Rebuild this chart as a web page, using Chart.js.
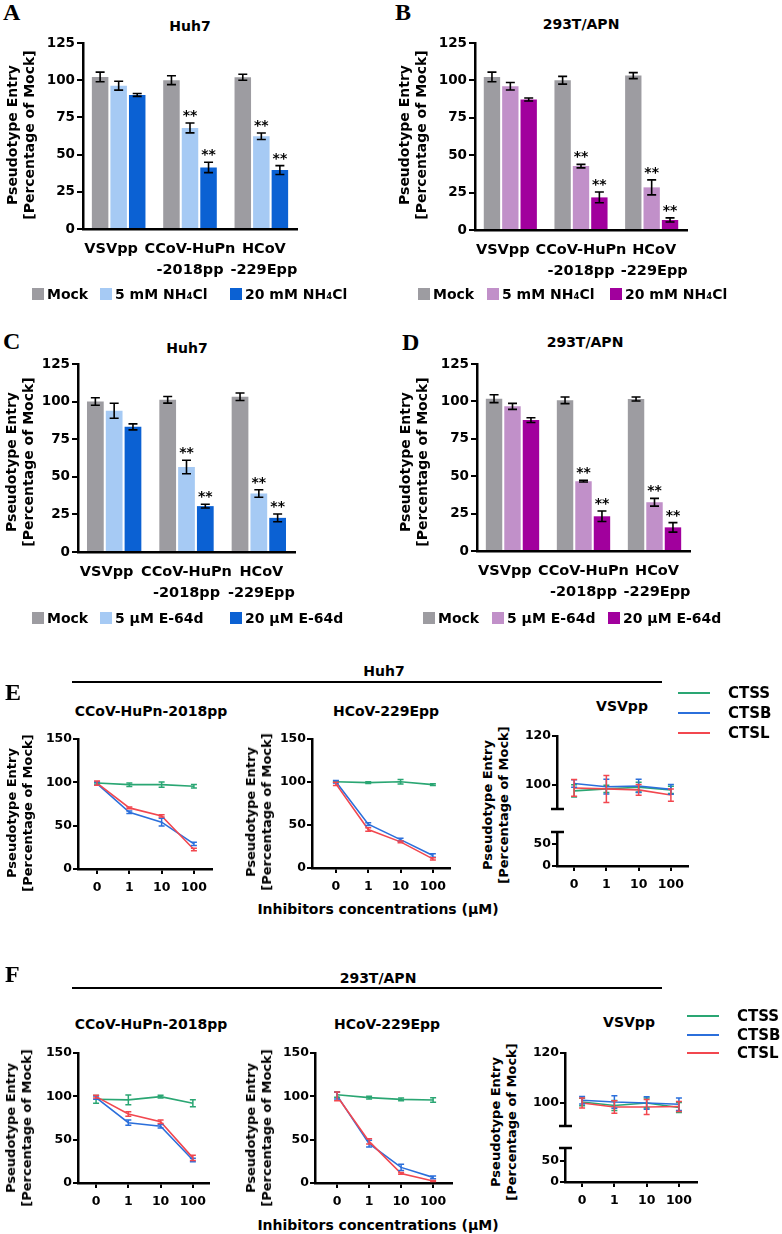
<!DOCTYPE html>
<html>
<head>
<meta charset="utf-8">
<script src="https://cdn.jsdelivr.net/npm/chart.js@4.4.1/dist/chart.umd.min.js"></script>
<style>
  body { margin: 0; background: #fff; width: 782px; height: 1234px; position: relative; overflow: hidden;
         font-family: 'DejaVu Sans', sans-serif; font-weight: bold; color: #000; }
  .abs { position: absolute; white-space: nowrap; }
  .letter { font-family: 'Liberation Serif', 'Times New Roman', serif; font-size: 24px; line-height: 24px; font-weight: bold; }
</style>
</head>
<body>
<script>
// ---- bar panels (A-D) ----
// (spaces nudge the labels the way the original figure sets them)
const barGroups = [['VSVpp   '], ['CCoV-HuPn', '-2018pp'], [' HCoV', ' -229Epp']];
const nh4Series = ['Mock', '5 mM NH₄Cl', '20 mM NH₄Cl'];
const e64Series = ['Mock', '5 μM E-64d', '20 μM E-64d'];
const starred = [false, true, true];

// A: Huh7, NH4Cl
const aMock = [102.2, 100.0, 102.0], aMockErr = [3.2, 3.0, 2.0];
const aLow = [96.3, 67.9, 62.3], aLowErr = [3.0, 3.3, 2.2];
const aHigh = [90.1, 41.4, 39.6], aHighErr = [1.0, 3.5, 3.0];
// B: 293T/APN, NH4Cl
const bMock = [102.3, 100.1, 103.2], bMockErr = [3.2, 2.6, 2.0];
const bLow = [96.1, 42.7, 28.5], bLowErr = [2.5, 1.2, 5.0];
const bHigh = [87.2, 21.8, 6.7], bHighErr = [1.0, 3.6, 1.4];
// C: Huh7, E-64d
const cMock = [100.1, 101.2, 103.2], cMockErr = [2.5, 2.2, 2.5];
const cLow = [93.9, 56.5, 38.9], cLowErr = [5.0, 4.5, 2.5];
const cHigh = [83.2, 30.5, 22.7], cHighErr = [2.0, 1.2, 2.6];
// D: 293T/APN, E-64d
const dMock = [101.8, 100.7, 101.6], dMockErr = [2.6, 2.2, 1.3];
const dLow = [96.7, 46.7, 32.6], dLowErr = [2.0, 0.6, 2.6];
const dHigh = [87.5, 23.2, 15.8], dHighErr = [1.6, 3.5, 3.2];

// ---- line panels (E, F) ----
const concLabels = ['0', '1', '10', '100'];
const lineNames = ['CTSS', 'CTSB', 'CTSL'];

const eCcovS = [99.2, 97.3, 97.3, 95.4], eCcovSErr = [1.0, 2.0, 3.0, 2.0];
const eCcovB = [98.5, 65.4, 54.0, 29.0], eCcovBErr = [2.0, 1.5, 4.5, 2.0];
const eCcovL = [99.0, 70.5, 61.3, 22.5], eCcovLErr = [2.5, 1.0, 1.2, 1.5];
const eHcovS = [100.3, 99.3, 100.3, 97.0], eHcovSErr = [1.0, 1.0, 2.5, 1.0];
const eHcovB = [100.3, 51.0, 33.0, 14.5], eHcovBErr = [1.5, 1.5, 1.5, 2.0];
const eHcovL = [97.8, 44.8, 30.4, 10.6], eHcovLErr = [2.0, 2.0, 1.0, 1.2];
const eVsvS = [97.6, 98.4, 99.1, 98.0], eVsvSErr = [2.5, 1.5, 2.0, 1.5];
const eVsvB = [100.6, 99.3, 99.6, 98.2], eVsvBErr = [1.5, 3.0, 2.7, 2.0];
const eVsvL = [98.8, 98.4, 98.0, 95.9], eVsvLErr = [3.4, 5.5, 2.2, 2.5];

const fCcovS = [96.6, 95.9, 99.7, 92.0], fCcovSErr = [4.5, 5.5, 1.5, 4.0];
const fCcovB = [98.5, 69.6, 65.5, 26.5], fCcovBErr = [2.0, 3.0, 2.0, 2.0];
const fCcovL = [99.7, 79.6, 70.7, 29.0], fCcovLErr = [1.5, 2.5, 2.0, 3.0];
const fHcovS = [101.9, 98.5, 96.5, 95.8], fHcovSErr = [3.0, 1.5, 1.5, 2.5];
const fHcovB = [100.8, 45.4, 18.0, 6.5], fHcovBErr = [4.0, 4.0, 3.5, 1.5];
const fHcovL = [100.0, 48.0, 11.0, 2.3], fHcovLErr = [5.0, 3.0, 1.0, 0.5];
const fVsvS = [100.4, 99.0, 100.0, 98.2], fVsvSErr = [1.5, 2.0, 2.0, 2.0];
const fVsvB = [101.1, 100.4, 100.0, 99.5], fVsvBErr = [1.5, 2.5, 2.5, 2.5];
const fVsvL = [100.0, 98.4, 98.4, 98.6], fVsvLErr = [2.0, 2.5, 3.0, 2.0];

const FONT = 'DejaVu Sans';
const blueColors = ['#9d9ca1', '#a6caf4', '#0b61d3'];
const purpleColors = ['#9d9ca1', '#c190c9', '#a1009d'];
const lineColors = ['#2aa673', '#2b6fdb', '#f2474f'];

Chart.defaults.font.family = FONT;
Chart.defaults.font.weight = 'bold';
Chart.defaults.color = '#000';

// error bars (+ significance stars) drawn from dataset.errors
const errorBars = {
    id: 'errorBars',
    afterDatasetsDraw(chart, args, opts) {
        const ctx = chart.ctx;
        chart.data.datasets.forEach((ds, i) => {
            if (!ds.errors) return;
            const meta = chart.getDatasetMeta(i);
            const yScale = chart.scales[meta.yAxisID];
            ctx.save();
            ctx.strokeStyle = ds.errorColor || ds.borderColor;
            ctx.lineWidth = opts.width || 1.6;
            meta.data.forEach((el, j) => {
                const raw = ds.data[j];
                const v = typeof raw === 'object' ? raw.y : raw;
                const e = ds.errors[j];
                const top = yScale.getPixelForValue(v + e);
                const bot = yScale.getPixelForValue(v - e);
                const x = el.x, h = (opts.cap || 8) / 2;
                ctx.beginPath();
                ctx.moveTo(x, top); ctx.lineTo(x, bot);
                ctx.moveTo(x - h, top); ctx.lineTo(x + h, top);
                ctx.moveTo(x - h, bot); ctx.lineTo(x + h, bot);
                ctx.stroke();
                if (ds.stars && ds.stars[j]) {
                    ctx.fillStyle = '#000';
                    ctx.font = 'bold 14px "DejaVu Sans"';
                    ctx.textAlign = 'center';
                    ctx.textBaseline = 'alphabetic';
                    ctx.fillText('**', x, top - 3);
                }
            });
            ctx.restore();
        });
    }
};

// little end bar where the y axis is broken
const breakCap = {
    id: 'breakCap',
    afterDraw(chart, args, opts) {
        if (!opts || !opts.edge) return;
        const ctx = chart.ctx;
        const {left, top, bottom} = chart.chartArea;
        const y = opts.edge === 'top' ? top : bottom;
        ctx.save();
        ctx.strokeStyle = '#000';
        ctx.lineWidth = 2.5;
        ctx.beginPath();
        ctx.moveTo(left - 6, y); ctx.lineTo(left + 7, y);
        ctx.stroke();
        ctx.restore();
    }
};

function makeCanvas(area, pad) {
    const c = document.createElement('canvas');
    const w = area.r - area.l + pad.l + pad.r;
    const h = area.b - area.t + pad.t + pad.b;
    c.width = w; c.height = h;
    c.style.cssText = `position:absolute;left:${area.l - pad.l}px;top:${area.t - pad.t}px;width:${w}px;height:${h}px`;
    document.body.appendChild(c);
    return c;
}

function addText(html, x, y, size, extra) {
    const d = document.createElement('div');
    d.className = 'abs';
    d.style.cssText += `left:${x}px;top:${y}px;font-size:${size}px;line-height:${size}px;transform:translate(-50%,-50%);` + (extra || '');
    d.innerHTML = html;
    document.body.appendChild(d);
    return d;
}

function letter(ch, x, y) {
    const d = document.createElement('div');
    d.className = 'abs letter';
    d.style.left = x + 'px'; d.style.top = y + 'px';
    d.textContent = ch;
    document.body.appendChild(d);
}

function yTitle(cx, cy, size) {
    const d = document.createElement('div');
    d.className = 'abs';
    d.style.cssText += `left:${cx}px;top:${cy}px;font-size:${size}px;line-height:${size + 3}px;text-align:center;transform:translate(-50%,-50%) rotate(-90deg)`;
    d.innerHTML = 'Pseudotype Entry<br>[Percentage of Mock]';
    document.body.appendChild(d);
}

function barLegend(names, colors, boxXs, textXs, cy) {
    names.forEach((name, i) => {
        const sq = document.createElement('div');
        sq.className = 'abs';
        sq.style.cssText += `left:${boxXs[i]}px;top:${cy - 6}px;width:12px;height:12px;background:${colors[i]}`;
        document.body.appendChild(sq);
        const t = document.createElement('div');
        t.className = 'abs';
        t.style.cssText += `left:${textXs[i]}px;top:${cy - 7}px;font-size:14px;line-height:14px`;
        t.textContent = name;
        document.body.appendChild(t);
    });
}

function lineLegend(x1, textX, ys) {
    lineNames.forEach((name, i) => {
        const ln = document.createElement('div');
        ln.className = 'abs';
        ln.style.cssText += `left:${x1}px;top:${ys[i] - 1}px;width:32px;height:2px;background:${lineColors[i]}`;
        document.body.appendChild(ln);
        const t = document.createElement('div');
        t.className = 'abs';
        t.style.cssText += `left:${textX}px;top:${ys[i] - 8}px;font-size:15px;line-height:16px`;
        t.textContent = name;
        document.body.appendChild(t);
    });
}

function hRule(x1, x2, y) {
    const d = document.createElement('div');
    d.className = 'abs';
    d.style.cssText += `left:${x1}px;top:${y - 1}px;width:${x2 - x1}px;height:2px;background:#000`;
    document.body.appendChild(d);
}

const BPAD = {l: 50, t: 14, r: 14, b: 60};
function barChart(area, series, colors, values, errors) {
    const canvas = makeCanvas(area, BPAD);
    return new Chart(canvas, {
        type: 'bar',
        data: {
            labels: barGroups,
            datasets: series.map((name, i) => ({
                label: name,
                data: values[i],
                errors: errors[i],
                stars: i > 0 ? starred : null,
                errorColor: '#000',
                backgroundColor: colors[i],
                categoryPercentage: 0.78,
                barPercentage: 0.89
            }))
        },
        options: {
            responsive: false, animation: false, devicePixelRatio: 1,
            layout: {padding: {left: 0, top: BPAD.t, right: BPAD.r, bottom: 0}},
            plugins: {legend: {display: false}, tooltip: {enabled: false}, errorBars: {width: 1.6, cap: 9}},
            scales: {
                x: {
                    grid: {display: false, drawTicks: false},
                    border: {display: true, color: '#000', width: 2.5},
                    ticks: {font: {size: 14.5, lineHeight: 1.5}, padding: 9, maxRotation: 0, autoSkip: false},
                    afterFit: s => { s.height = BPAD.b; }
                },
                y: {
                    min: 0, max: 125,
                    ticks: {stepSize: 25, font: {size: 13.5}, padding: 2},
                    grid: {drawOnChartArea: false, color: '#000', lineWidth: 2, tickLength: 6},
                    border: {color: '#000', width: 2.5},
                    afterFit: s => { s.width = BPAD.l; }
                }
            }
        },
        plugins: [errorBars]
    });
}

const LPAD = {l: 45, t: 12, r: 12, b: 35};
function lineSets(vals, errs) {
    return lineNames.map((name, k) => ({
        label: name,
        data: vals[k].map((v, i) => ({x: i, y: v})),
        errors: errs[k],
        borderColor: lineColors[k],
        backgroundColor: lineColors[k],
        borderWidth: 1.6,
        pointRadius: 0,
        order: 3 - k
    }));
}
function xScale(range, show) {
    const s = {
        type: 'linear', min: range[0], max: range[1], display: show,
        afterBuildTicks: sc => { sc.ticks = concLabels.map((_, i) => ({value: i})); },
        ticks: {autoSkip: false, callback: v => concLabels[v], font: {size: 12.5}, padding: 6, maxRotation: 0},
        grid: {drawOnChartArea: false, color: '#000', lineWidth: 2, tickLength: 5},
        border: {color: '#000', width: 2.5}
    };
    if (show) s.afterFit = sc => { sc.height = LPAD.b; };
    return s;
}
function yScale(min, max, tickVals) {
    return {
        type: 'linear', min, max,
        afterBuildTicks: sc => { sc.ticks = tickVals.map(v => ({value: v})); },
        ticks: {font: {size: 12.5}, padding: 1},
        grid: {drawOnChartArea: false, color: '#000', lineWidth: 2, tickLength: 5},
        border: {color: '#000', width: 2.5},
        afterFit: sc => { sc.width = LPAD.l; }
    };
}
function lineChart(area, xr, yr, yTicks, datasets, showX, edge) {
    const canvas = makeCanvas(area, LPAD);
    return new Chart(canvas, {
        type: 'line',
        data: {datasets},
        options: {
            responsive: false, animation: false, devicePixelRatio: 1,
            layout: {padding: {left: 0, top: LPAD.t, right: LPAD.r, bottom: showX ? 0 : LPAD.b}},
            plugins: {legend: {display: false}, tooltip: {enabled: false},
                      errorBars: {width: 1.5, cap: 6}, breakCap: {edge}},
            scales: {x: xScale(xr, showX), y: yScale(yr[0], yr[1], yTicks)}
        },
        plugins: [errorBars, breakCap]
    });
}
function vsvCharts(upper, lower, xr, upMin, lowMax, datasets) {
    lineChart(upper, xr, [upMin, 120], [100, 120], datasets, false, 'bottom');
    lineChart(lower, xr, [0, lowMax], [0, 50], [], true, 'top');
}

// ---- panels A-D ----
letter('A', 3, 0);
letter('B', 395, 0);
letter('C', 3, 329);
letter('D', 402, 330);

addText('Huh7', 190, 26, 14);
addText('293T/APN', 581, 24, 14);
addText('Huh7', 187, 348, 14);
addText('293T/APN', 585, 342, 14);

barChart({l: 83, t: 43, r: 297, b: 229}, nh4Series, blueColors,
    [aMock, aLow, aHigh], [aMockErr, aLowErr, aHighErr]);
barChart({l: 475, t: 43, r: 687, b: 230}, nh4Series, purpleColors,
    [bMock, bLow, bHigh], [bMockErr, bLowErr, bHighErr]);
barChart({l: 78, t: 364, r: 295, b: 552}, e64Series, blueColors,
    [cMock, cLow, cHigh], [cMockErr, cLowErr, cHighErr]);
barChart({l: 477, t: 364, r: 690, b: 551}, e64Series, purpleColors,
    [dMock, dLow, dHigh], [dMockErr, dLowErr, dHighErr]);

yTitle(21, 135, 14);
yTitle(413, 135, 14);
yTitle(20, 462, 14);
yTitle(414, 462, 14);

barLegend(nh4Series, blueColors, [32, 100, 230], [47, 115, 245], 294);
barLegend(nh4Series, purpleColors, [418, 487, 610], [433, 502, 625], 294);
barLegend(e64Series, blueColors, [32, 100, 230], [47, 115, 245], 618);
barLegend(e64Series, purpleColors, [423, 492, 608], [438, 507, 623], 618);

// ---- panel E (Huh7) ----
letter('E', 5, 680);
hRule(72, 662, 682);
addText('Huh7', 384, 671, 14);
addText('CCoV-HuPn-2018pp', 151, 711, 14);
addText('HCoV-229Epp', 386, 711, 14);
addText('VSVpp', 622, 706, 14);
addText('Inhibitors concentrations (μM)', 378, 909, 14);

lineChart({l: 78, t: 739, r: 212, b: 869}, [-0.59, 3.56], [0, 150], [0, 50, 100, 150],
    lineSets([eCcovS, eCcovB, eCcovL], [eCcovSErr, eCcovBErr, eCcovLErr]), true);
lineChart({l: 312, t: 739, r: 450, b: 868}, [-0.74, 3.53], [0, 150], [0, 50, 100, 150],
    lineSets([eHcovS, eHcovB, eHcovL], [eHcovSErr, eHcovBErr, eHcovLErr]), true);
vsvCharts({l: 557, t: 736, r: 688, b: 809}, {l: 557, t: 832, r: 688, b: 866}, [-0.53, 3.53], 90.2, 77,
    lineSets([eVsvS, eVsvB, eVsvL], [eVsvSErr, eVsvBErr, eVsvLErr]));

yTitle(20, 813, 13);
yTitle(259, 812, 13);
yTitle(496, 805, 13);
lineLegend(678, 728, [693, 713, 733]);

// ---- panel F (293T/APN) ----
letter('F', 5, 962);
hRule(72, 662, 988);
addText('293T/APN', 378, 978, 14);
addText('CCoV-HuPn-2018pp', 151, 1024, 14);
addText('HCoV-229Epp', 387, 1024, 14);
addText('VSVpp', 629, 1022, 14);
addText('Inhibitors concentrations (μM)', 378, 1225, 14);

lineChart({l: 78, t: 1053, r: 209, b: 1183}, [-0.56, 3.5], [0, 150], [0, 50, 100, 150],
    lineSets([fCcovS, fCcovB, fCcovL], [fCcovSErr, fCcovBErr, fCcovLErr]), true);
lineChart({l: 315, t: 1053, r: 452, b: 1183}, [-0.69, 3.59], [0, 150], [0, 50, 100, 150],
    lineSets([fHcovS, fHcovB, fHcovL], [fHcovSErr, fHcovBErr, fHcovLErr]), true);
vsvCharts({l: 565, t: 1053, r: 697, b: 1126}, {l: 565, t: 1148, r: 697, b: 1182}, [-0.53, 3.56], 90.8, 81,
    lineSets([fVsvS, fVsvB, fVsvL], [fVsvSErr, fVsvBErr, fVsvLErr]));

yTitle(19, 1128, 13);
yTitle(259, 1128, 13);
yTitle(504, 1122, 13);
lineLegend(687, 737, [1016, 1035, 1053]);
</script>
</body>
</html>
